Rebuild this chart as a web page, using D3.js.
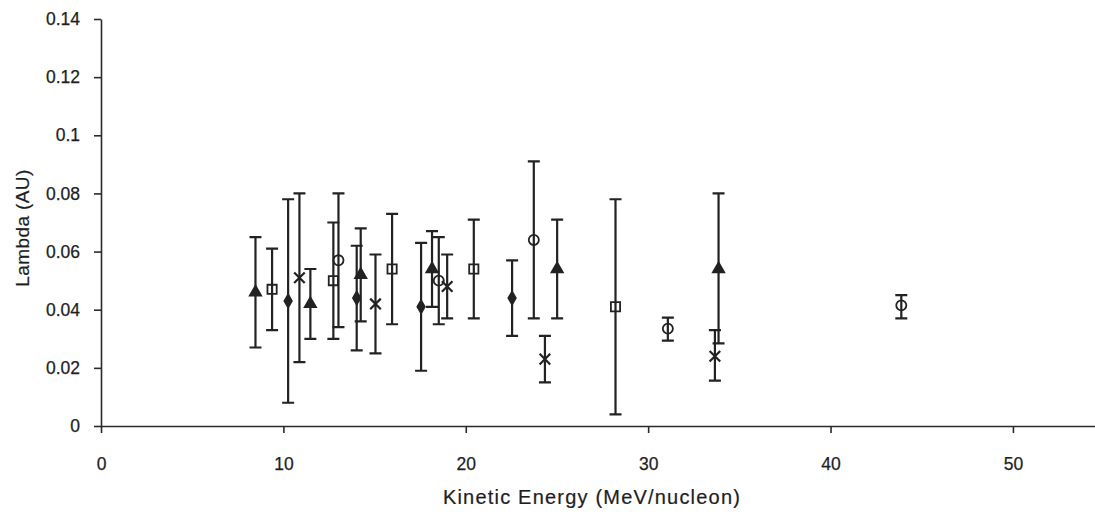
<!DOCTYPE html>
<html>
<head>
<meta charset="utf-8">
<script src="https://cdn.jsdelivr.net/npm/d3@7"></script>
<style>
  html, body { margin: 0; padding: 0; background: #fff; }
  svg { display: block; font-family: "Liberation Sans", Arial, sans-serif; }
  .axis path, .axis line { stroke: #2a2a2a; stroke-width: 1.6; }
  .axis text { fill: #1e1e1e; font-size: 17.5px; stroke: #1e1e1e; stroke-width: 0.25; }
  .bar { stroke: #222; stroke-width: 2.2; fill: none; }
  .title { fill: #1e1e1e; stroke: #1e1e1e; stroke-width: 0.2; }
</style>
</head>
<body>
<svg id="chart" width="1095" height="530"></svg>
<script>
// energy (MeV/nucleon), lambda (AU), upper and lower ends of the error bar
var triangleE  = [8.47, 11.48, 14.24, 18.15, 25.01, 33.86];
var triangleL  = [0.046, 0.042, 0.052, 0.054, 0.054, 0.054];
var triangleHi = [0.065, 0.054, 0.068, 0.067, 0.071, 0.080];
var triangleLo = [0.027, 0.030, 0.036, 0.041, 0.037, 0.0284];

var squareE  = [9.38, 12.74, 15.96, 20.44, 28.21];
var squareL  = [0.047, 0.050, 0.054, 0.054, 0.041];
var squareHi = [0.061, 0.070, 0.073, 0.071, 0.078];
var squareLo = [0.033, 0.030, 0.035, 0.037, 0.004];

var diamondE  = [10.26, 14.02, 17.55, 22.54];
var diamondL  = [0.043, 0.044, 0.041, 0.044];
var diamondHi = [0.078, 0.062, 0.063, 0.057];
var diamondLo = [0.008, 0.026, 0.019, 0.031];

var crossE  = [10.88, 15.05, 18.98, 24.34, 33.66];
var crossL  = [0.051, 0.042, 0.048, 0.023, 0.024];
var crossHi = [0.080, 0.059, 0.059, 0.031, 0.033];
var crossLo = [0.022, 0.025, 0.037, 0.015, 0.0156];

var circleE  = [13.02, 18.52, 23.73, 31.08, 43.88];
var circleL  = [0.057, 0.050, 0.064, 0.0335, 0.0415];
var circleHi = [0.080, 0.065, 0.091, 0.0373, 0.045];
var circleLo = [0.034, 0.035, 0.037, 0.0294, 0.037];

var xTicks = [0, 10, 20, 30, 40, 50];
var yTicks = [0, 0.02, 0.04, 0.06, 0.08, 0.1, 0.12, 0.14];

var series = [
  { shape: 'triangle', e: triangleE, l: triangleL, hi: triangleHi, lo: triangleLo },
  { shape: 'square',   e: squareE,   l: squareL,   hi: squareHi,   lo: squareLo },
  { shape: 'diamond',  e: diamondE,  l: diamondL,  hi: diamondHi,  lo: diamondLo },
  { shape: 'cross',    e: crossE,    l: crossL,    hi: crossHi,    lo: crossLo },
  { shape: 'circle',   e: circleE,   l: circleL,   hi: circleHi,   lo: circleLo }
];

var svg = d3.select('#chart');

var x = d3.scaleLinear().domain([0, 54.5]).range([101, 1095]);
var y = d3.scaleLinear().domain([0, 0.14]).range([426, 19]);

// axes
svg.append('g')
  .attr('class', 'axis')
  .attr('transform', 'translate(0,' + y(0) + ')')
  .call(d3.axisBottom(x).tickValues(xTicks).tickSize(7).tickSizeOuter(0).tickPadding(25)
    .tickFormat(function (d) { return d; }));

svg.append('g')
  .attr('class', 'axis')
  .attr('transform', 'translate(' + x(0) + ',0)')
  .call(d3.axisLeft(y).tickValues(yTicks).tickSize(7).tickSizeOuter(0).tickPadding(14)
    .tickFormat(function (d) { return d === 0 ? '0' : String(+d.toFixed(2)); }));

svg.append('text')
  .attr('class', 'title')
  .attr('x', 592)
  .attr('y', 504)
  .attr('text-anchor', 'middle')
  .style('font-size', '20px')
  .style('letter-spacing', '1.2px')
  .text('Kinetic Energy (MeV/nucleon)');

svg.append('text')
  .attr('class', 'title')
  .attr('transform', 'translate(29,228) rotate(-90)')
  .attr('text-anchor', 'middle')
  .style('font-size', '19px')
  .style('letter-spacing', '0.4px')
  .text('Lambda (AU)');

// flatten to one row per point
var points = [];
series.forEach(function (s) {
  s.e.forEach(function (e, i) {
    points.push({ shape: s.shape, e: e, l: s.l[i], hi: s.hi[i], lo: s.lo[i] });
  });
});

var cap = 6;
var g = svg.append('g');

var pt = g.selectAll('.pt')
  .data(points)
  .enter()
  .append('g')
  .attr('class', 'pt');

pt.append('path')
  .attr('class', 'bar')
  .attr('d', function (d) {
    var cx = x(d.e), t = y(d.hi), b = y(d.lo);
    return 'M' + cx + ',' + t + 'V' + b
      + 'M' + (cx - cap) + ',' + t + 'H' + (cx + cap)
      + 'M' + (cx - cap) + ',' + b + 'H' + (cx + cap);
  });

var symbols = {
  triangle: d3.symbol().type(d3.symbolTriangle).size(55),
  diamond: d3.symbol().type(d3.symbolDiamond).size(48),
  square: d3.symbol().type(d3.symbolSquare).size(85),
  circle: d3.symbol().type(d3.symbolCircle).size(80),
  cross: d3.symbol().type(d3.symbolTimes).size(75)
};

pt.append('path')
  .attr('transform', function (d) { return 'translate(' + x(d.e) + ',' + y(d.l) + ')'; })
  .attr('d', function (d) { return symbols[d.shape](); })
  .attr('fill', function (d) {
    return (d.shape === 'triangle' || d.shape === 'diamond') ? '#222' : '#fff';
  })
  .attr('fill-opacity', function (d) {
    return (d.shape === 'square' || d.shape === 'circle') ? 0 : 1;
  })
  .attr('stroke', '#222')
  .attr('stroke-width', function (d) { return d.shape === 'cross' ? 2.2 : 1.8; });
</script>
</body>
</html>
